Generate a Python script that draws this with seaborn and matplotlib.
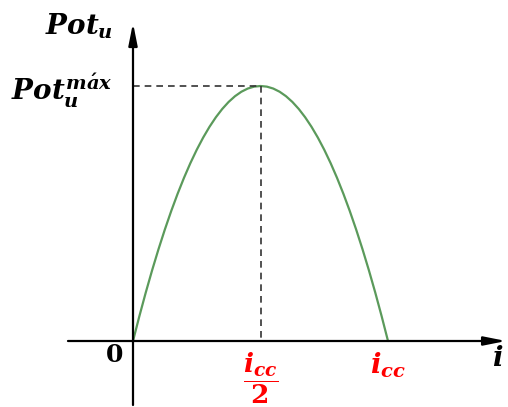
import matplotlib
matplotlib.use("Agg")
import matplotlib.pyplot as plt
import seaborn as sns
import pandas as pd

# Current as a fraction of the short-circuit current i_cc
corriente = [0.000, 0.025, 0.050, 0.075, 0.100, 0.125, 0.150, 0.175, 0.200, 0.225,
             0.250, 0.275, 0.300, 0.325, 0.350, 0.375, 0.400, 0.425, 0.450, 0.475,
             0.500, 0.525, 0.550, 0.575, 0.600, 0.625, 0.650, 0.675, 0.700, 0.725,
             0.750, 0.775, 0.800, 0.825, 0.850, 0.875, 0.900, 0.925, 0.950, 0.975, 1.000]
# Useful power as a fraction of its maximum
potencia = [0.0000, 0.0975, 0.1900, 0.2775, 0.3600, 0.4375, 0.5100, 0.5775, 0.6400, 0.6975,
            0.7500, 0.7975, 0.8400, 0.8775, 0.9100, 0.9375, 0.9600, 0.9775, 0.9900, 0.9975,
            1.0000, 0.9975, 0.9900, 0.9775, 0.9600, 0.9375, 0.9100, 0.8775, 0.8400, 0.7975,
            0.7500, 0.6975, 0.6400, 0.5775, 0.5100, 0.4375, 0.3600, 0.2775, 0.1900, 0.0975, 0.0000]
i_pico = 0.5
pot_max = 1.0

sns.set_theme(style="white")
plt.rcParams["mathtext.fontset"] = "custom"
plt.rcParams["mathtext.it"] = "DejaVu Serif:italic:bold"
plt.rcParams["mathtext.rm"] = "DejaVu Serif:bold"
plt.rcParams["mathtext.bf"] = "DejaVu Serif:bold"
plt.rcParams["text.color"] = "black"

df = pd.DataFrame({"i": corriente, "P": potencia})

fig = plt.figure(figsize=(5.08, 4.07), dpi=100)
ax = fig.add_axes([0, 0, 1, 1])
ax.set_xlim(-133 / 255, 375 / 255)
ax.set_ylim(-66 / 255, 341 / 255)
ax.axis("off")

sns.lineplot(data=df, x="i", y="P", ax=ax, color="#5b9a5b", lw=1.6, sort=False)

# Guides to the maximum-power point
ax.plot([0, i_pico], [pot_max, pot_max], ls=(0, (4, 3)), color="#333333", lw=1.2)
ax.plot([i_pico, i_pico], [pot_max, 0], ls=(0, (4, 3)), color="#333333", lw=1.2)

# Coordinate axes with arrow heads
arrow = dict(arrowstyle="-|>,head_length=1.1,head_width=0.22", color="black",
             lw=1.6, shrinkA=0, shrinkB=0)
ax.annotate("", xy=(1.463, 0), xytext=(-0.255, 0), arrowprops=arrow)
ax.annotate("", xy=(0, 1.247), xytext=(0, -0.251), arrowprops=arrow)

fs = 20
ax.text(-0.08, 1.235, r"$Pot_u$", ha="right", va="center", fontsize=fs)
ax.text(-0.08, 0.98, r"$Pot_u^{m\acute{a}x}$", ha="right", va="center", fontsize=fs)
ax.text(-0.04, -0.055, r"$\mathbf{0}$", ha="right", va="center", fontsize=fs - 2)
ax.text(1.432, -0.065, r"$i$", ha="center", va="center", fontsize=fs)
ax.text(i_pico, -0.145, r"$\dfrac{i_{cc}}{\mathbf{2}}$", ha="center", va="center",
        fontsize=fs - 1, color="red")
ax.text(1.0, -0.095, r"$i_{cc}$", ha="center", va="center", fontsize=fs, color="red")

fig.savefig("out.png", dpi=100)
